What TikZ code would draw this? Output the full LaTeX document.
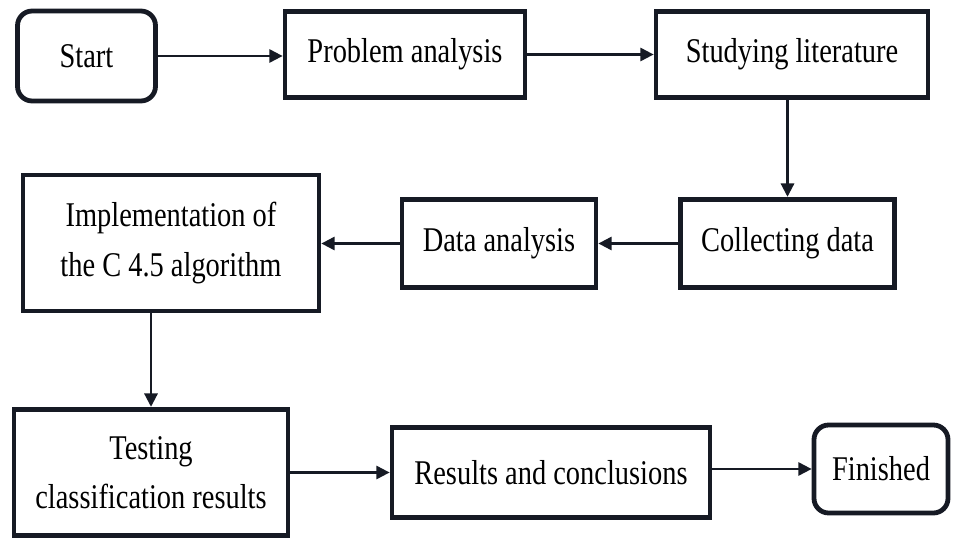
\documentclass[tikz,border=0pt]{standalone}
\usepackage{fontspec}
\setmainfont{Liberation Serif}[FakeStretch=0.82]
\usetikzlibrary{arrows.meta,calc}
\definecolor{edge}{RGB}{22,26,36}
\tikzset{
  box/.style={draw=edge,line width=3.6pt,fill=white,inner sep=0pt,align=center,
    font=\fontsize{26}{37}\selectfont,text=black},
  term/.style={box,rounded corners=11pt},
  conn/.style={draw=edge,line width=1.6pt,-{Triangle[length=10pt,width=10pt]}}
}
\begin{document}
\begin{tikzpicture}[x=0.75pt,y=-0.75pt]
\useasboundingbox (0,0) rectangle (956,542);
\node[term,minimum width=103.5pt,minimum height=67.5pt] (start) at (86.5,56) {Start};
\node[box,minimum width=180pt,minimum height=65pt] (prob) at (405,54.5) {Problem analysis};
\node[box,minimum width=204pt,minimum height=65pt] (stud) at (792,54.5) {Studying literature};
\node[box,minimum width=161pt,minimum height=66.5pt] (coll) at (787.5,243.5) {Collecting data};
\node[box,minimum width=145.5pt,minimum height=66.5pt] (data) at (499,243.5) {Data analysis};
\node[box,minimum width=222pt,minimum height=102pt] (impl) at (171,243) {Implementation of\\the C 4.5 algorithm};
\node[box,minimum width=205.5pt,minimum height=95pt] (test) at (151,472.5) {Testing\\classification results};
\node[box,minimum width=238.5pt,minimum height=68pt] (res) at (551,472.5) {Results and conclusions};
\node[term,minimum width=100.5pt,minimum height=66pt] (fin) at (881,469) {Finished};
\draw[conn] (start.east) -- (start.east -| prob.west);
\draw[conn] (prob.east) -- (prob.east -| stud.west);
\draw[conn] (coll.north |- stud.south) -- (coll.north);
\draw[conn] (coll.west) -- (coll.west -| data.east);
\draw[conn] (data.west) -- (data.west -| impl.east);
\draw[conn] (test.north |- impl.south) -- (test.north);
\draw[conn] (test.east) -- (test.east -| res.west);
\draw[conn] (res.east |- fin.west) -- (fin.west);
\end{tikzpicture}
\end{document}
